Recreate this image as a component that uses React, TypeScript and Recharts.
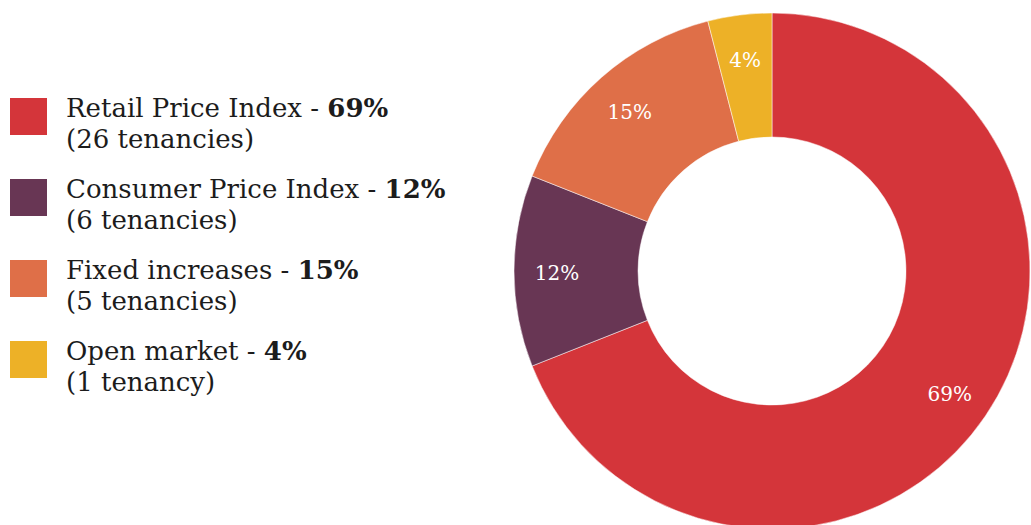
import { PieChart, Pie, Cell, Legend } from "recharts";

const categories = ["Retail Price Index", "Consumer Price Index", "Fixed increases", "Open market"];
const shares = [69, 12, 15, 4];
const tenancies = ["26 tenancies", "6 tenancies", "5 tenancies", "1 tenancy"];
const colors = ["#D4353A", "#683654", "#DF6F48", "#EDB127"];

const FONT = "'DejaVu Serif', serif";
const RADIAN = Math.PI / 180;

const data = categories.map((name, i) => ({ name, value: shares[i] }));

function renderLabel(props: any) {
  const { cx, cy, midAngle, value } = props;
  const r = 215;
  const x = cx + r * Math.cos(-midAngle * RADIAN);
  const y = cy + r * Math.sin(-midAngle * RADIAN);
  return (
    <text
      x={x}
      y={y + 2}
      fill="#ffffff"
      textAnchor="middle"
      dominantBaseline="central"
      fontFamily={FONT}
      fontSize={20}
    >
      {value}%
    </text>
  );
}

function LegendBox() {
  return (
    <div style={{ fontFamily: FONT, color: "#1c1c1c", fontSize: 26, lineHeight: "31px" }}>
      {categories.map((name, i) => (
        <div key={name} style={{ display: "flex", alignItems: "flex-start", marginBottom: 19 }}>
          <div
            style={{
              width: 37,
              height: 37,
              background: colors[i],
              marginTop: 5.5,
              marginRight: 19,
              flexShrink: 0,
            }}
          />
          <div>
            <div style={{ whiteSpace: "nowrap" }}>
              {name} - <b>{shares[i]}%</b>
            </div>
            <div>({tenancies[i]})</div>
          </div>
        </div>
      ))}
    </div>
  );
}

export default function App() {
  return (
    <div style={{ position: "absolute", left: 0, top: 0, width: 1031, height: 525, background: "#fff" }}>
      <PieChart width={1031} height={525} margin={{ top: 0, right: 0, bottom: 0, left: 0 }}>
        <Pie
          data={data}
          dataKey="value"
          nameKey="name"
          cx={772}
          cy={271}
          innerRadius={134}
          outerRadius={258}
          startAngle={90}
          endAngle={-270}
          stroke="#ffffff"
          strokeWidth={0.5}
          label={renderLabel}
          labelLine={false}
          isAnimationActive={false}
        >
          {data.map((d, i) => (
            <Cell key={d.name} fill={colors[i]} />
          ))}
        </Pie>
        <Legend
          layout="vertical"
          content={() => <LegendBox />}
          wrapperStyle={{ position: "absolute", left: 10, top: 92.5, width: 500 }}
        />
      </PieChart>
    </div>
  );
}
